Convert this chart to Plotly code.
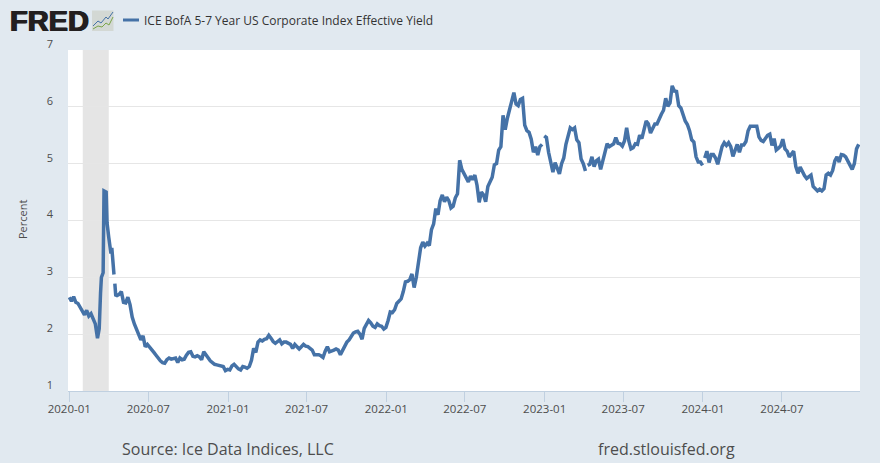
import pandas as pd
import plotly.graph_objects as go

W, H = 880, 463
MARGIN_L, MARGIN_R, MARGIN_T, MARGIN_B = 68, 20, 50, 72
SERIES_NAME = "ICE BofA 5-7 Year US Corporate Index Effective Yield"
SOURCE = "Source: Ice Data Indices, LLC"
SITE = "fred.stlouisfed.org"
Y_TITLE = "Percent"
Y_TICKS = [1, 2, 3, 4, 5, 6, 7]
RECESSION = ["2020-02-01", "2020-04-01"]
X_RANGE = ["2019-12-29", "2024-12-28"]
COLOR = "#4572a7"

early_values = [2.65, 2.58, 2.66, 2.56, 2.54, 2.47, 2.38, 2.34, 2.42, 2.32, 2.36, 2.28, 2.18]
early_dates = pd.date_range("2020-01-01", periods=len(early_values), freq="5D")

spike_dates = ["2020-03-06", "2020-03-10", "2020-03-13", "2020-03-15", "2020-03-19", "2020-03-21",
               "2020-03-26", "2020-03-28", "2020-04-01", "2020-04-04", "2020-04-06", "2020-04-08",
               "2020-04-13", "2020-04-15", "2020-04-17"]
spike_values = [1.93, 2.10, 2.72, 3.00, 3.08, 4.52, 4.50, 3.96, 3.70, 3.46, 3.42, 3.52, 3.05, 2.89, 2.69]

later_values = [
    2.68, 2.70, 2.75, 2.56, 2.55, 2.65, 2.52, 2.30, 2.18, 2.08,
    1.98, 1.90, 1.97, 1.78, 1.82, 1.78, 1.72, 1.68, 1.63, 1.57,
    1.53, 1.50, 1.49, 1.55, 1.58, 1.56, 1.57, 1.58, 1.50, 1.58,
    1.55, 1.56, 1.63, 1.68, 1.69, 1.61, 1.60, 1.62, 1.60, 1.55,
    1.69, 1.64, 1.57, 1.53, 1.50, 1.47, 1.46, 1.45, 1.45, 1.43,
    1.36, 1.38, 1.37, 1.44, 1.47, 1.42, 1.39, 1.37, 1.43, 1.42,
    1.40, 1.43, 1.54, 1.75, 1.68, 1.86, 1.90, 1.88, 1.91, 1.92,
    1.98, 1.93, 1.87, 1.84, 1.88, 1.90, 1.83, 1.86, 1.86, 1.84,
    1.82, 1.75, 1.82, 1.78, 1.74, 1.78, 1.82, 1.79, 1.78, 1.75,
    1.72, 1.64, 1.64, 1.64, 1.62, 1.59, 1.70, 1.78, 1.69, 1.70,
    1.72, 1.74, 1.72, 1.64, 1.72, 1.80, 1.86, 1.90, 1.96, 2.02,
    2.04, 2.05, 2.00, 1.91, 2.10, 2.18, 2.24, 2.20, 2.14, 2.12,
    2.18, 2.15, 2.14, 2.09, 2.12, 2.24, 2.39, 2.38, 2.43, 2.54,
    2.59, 2.62, 2.75, 2.92, 2.93, 2.96, 3.06, 2.82, 3.00, 3.32,
    3.52, 3.62, 3.55, 3.60, 3.56, 3.84, 3.94, 4.21, 4.10, 4.35,
    4.45, 4.33, 4.41, 4.35, 4.22, 4.25, 4.40, 4.47, 5.06, 4.90,
    4.83, 4.74, 4.68, 4.78, 4.72, 4.80, 4.62, 4.32, 4.50, 4.45,
    4.33, 4.60, 4.68, 4.76, 4.98, 5.00, 5.24, 5.30, 5.85, 5.60,
    5.80, 5.95, 6.10, 6.25, 6.05, 6.02, 6.13, 6.15, 5.68, 5.58,
    5.55, 5.43, 5.20, 5.30, 5.15, 5.30, 5.34, 5.49, 5.46, 5.20,
    5.03, 4.85, 5.02, 4.90, 4.82, 5.00, 5.10, 5.34, 5.50, 5.63,
    5.60, 5.63, 5.42, 5.37, 5.08, 5.00, 4.87, 4.97, 4.99, 5.12,
    4.95, 5.05, 5.08, 4.90, 5.07, 5.18, 5.35, 5.30, 5.33, 5.35,
    5.46, 5.36, 5.35, 5.31, 5.40, 5.63, 5.40, 5.26, 5.28, 5.35,
    5.34, 5.50, 5.44, 5.62, 5.75, 5.70, 5.54, 5.62, 5.70, 5.70,
    5.80, 5.87, 5.94, 6.15, 6.01, 6.07, 6.37, 6.28, 6.27, 6.02,
    5.98, 5.85, 5.75, 5.69, 5.58, 5.42, 5.38, 5.12, 5.03, 5.03,
    4.97, 5.10, 5.22, 5.02, 5.16, 5.16, 5.10, 4.99, 5.17, 5.30,
    5.37, 5.32, 5.37, 5.30, 5.13, 5.25, 5.34, 5.20, 5.33, 5.33,
    5.39, 5.58, 5.66, 5.66, 5.66, 5.66, 5.47, 5.41, 5.39, 5.46,
    5.50, 5.52, 5.32, 5.44, 5.24, 5.27, 5.31, 5.43, 5.26, 5.22,
    5.12, 5.17, 5.22, 4.95, 4.83, 4.94, 4.85, 4.79, 4.74, 4.78,
    4.80, 4.60, 4.55, 4.52, 4.55, 4.52, 4.56, 4.80, 4.83, 4.80,
    4.88, 5.05, 5.12, 5.03, 5.16, 5.15, 5.12, 5.05, 4.95, 4.90,
    5.00, 5.26, 5.34,
]
later_dates = pd.date_range("2020-04-20", periods=len(later_values), freq="5D")

# Days the source has no value for: each one breaks the line.
missing_dates = ["2020-04-14", "2022-12-28", "2023-04-07", "2024-01-02"]

s = pd.concat([
    pd.Series(early_values, index=early_dates),
    pd.Series(spike_values, index=pd.to_datetime(spike_dates)),
    pd.Series(later_values, index=later_dates),
    pd.Series([None] * len(missing_dates), index=pd.to_datetime(missing_dates), dtype=float),
]).sort_index()

FONT = "Open Sans"
TEXT = "#4d4d4d"
PLOT_W = W - MARGIN_L - MARGIN_R
PLOT_H = H - MARGIN_T - MARGIN_B


def px(x):
    return (x - MARGIN_L) / PLOT_W


def py(y):
    return 1 - (y - MARGIN_T) / PLOT_H


def path(points):
    return "M " + " L ".join(f"{px(a)} {py(b)}" for a, b in points)


fig = go.Figure()
fig.add_trace(go.Scatter(
    x=s.index, y=s.values, mode="lines", name=SERIES_NAME, connectgaps=False,
    line=dict(color=COLOR, width=3.5, shape="linear"), hoverinfo="skip",
))

fig.add_shape(type="rect", xref="x", yref="paper", x0=RECESSION[0], x1=RECESSION[1], y0=0, y1=1,
              fillcolor="#e5e5e5", line_width=0, layer="below")
# legend key
fig.add_shape(type="line", xref="paper", yref="paper", x0=px(123), x1=px(139), y0=py(20), y1=py(20),
              line=dict(color=COLOR, width=3))
# logo chart glyph
fig.add_shape(type="rect", xref="paper", yref="paper", x0=px(92), x1=px(113.5), y0=py(31), y1=py(10.5),
              fillcolor="#d3d8d4", line_width=0)
fig.add_shape(type="path", xref="paper", yref="paper",
              path=path([(93, 26), (98, 21), (101, 23), (106, 17), (108, 19), (113, 12)]),
              line=dict(color="#4572a7", width=1))
fig.add_shape(type="path", xref="paper", yref="paper",
              path=path([(93, 29), (98, 26), (102, 27), (106, 23), (109, 25), (113, 17)]),
              line=dict(color="#7aa44a", width=1))

fig.add_annotation(x=px(8), y=py(20.5), xref="paper", yref="paper", xanchor="left", yanchor="middle",
                   text="<b>FRED</b>", showarrow=False,
                   font=dict(family="Liberation Sans", size=29, color="#231f20",
                             shadow="0.7px 0 0 #231f20, -0.7px 0 0 #231f20"))
fig.add_annotation(x=px(142), y=py(20), xref="paper", yref="paper", xanchor="left", yanchor="middle",
                   text=SERIES_NAME, showarrow=False, font=dict(family=FONT, size=12, color="#333333"))
fig.add_annotation(x=px(120), y=py(449), xref="paper", yref="paper", xanchor="left", yanchor="middle",
                   text=SOURCE, showarrow=False, font=dict(family=FONT, size=16, color=TEXT))
fig.add_annotation(x=px(596), y=py(449), xref="paper", yref="paper", xanchor="left", yanchor="middle",
                   text=SITE, showarrow=False, font=dict(family=FONT, size=16, color=TEXT))
fig.add_annotation(x=px(22), y=py(220), xref="paper", yref="paper", xanchor="center", yanchor="middle",
                   text=Y_TITLE, textangle=-90, showarrow=False, font=dict(family=FONT, size=11, color=TEXT))

fig.update_layout(
    width=W, height=H, autosize=False, showlegend=False,
    paper_bgcolor="#e1e9f0", plot_bgcolor="#ffffff",
    margin=dict(l=MARGIN_L, r=MARGIN_R, t=MARGIN_T, b=MARGIN_B),
    font=dict(family=FONT, size=11, color=TEXT),
    xaxis=dict(range=X_RANGE, tickformat="%Y-%m", dtick="M6", tick0="2020-01-01", showgrid=False,
               ticks="outside", ticklen=10, tickcolor="#c0d0e0", tickwidth=1,
               showline=True, linecolor="#c0d0e0", linewidth=1, zeroline=False,
               ticklabelstandoff=-3,
               tickfont=dict(family=FONT, size=11.5, color=TEXT)),
    yaxis=dict(range=[1, 7], tickvals=Y_TICKS, showgrid=True, gridcolor="#e6e6e6", gridwidth=1,
               zeroline=False, showline=False, ticks="", ticklabelshift=-6, ticklabelstandoff=14,
               tickfont=dict(family=FONT, size=11, color=TEXT)),
)
fig.write_html("out.html", config=dict(displayModeBar=False),
               post_script="document.body.style.margin='0';document.body.style.overflow='hidden';")
